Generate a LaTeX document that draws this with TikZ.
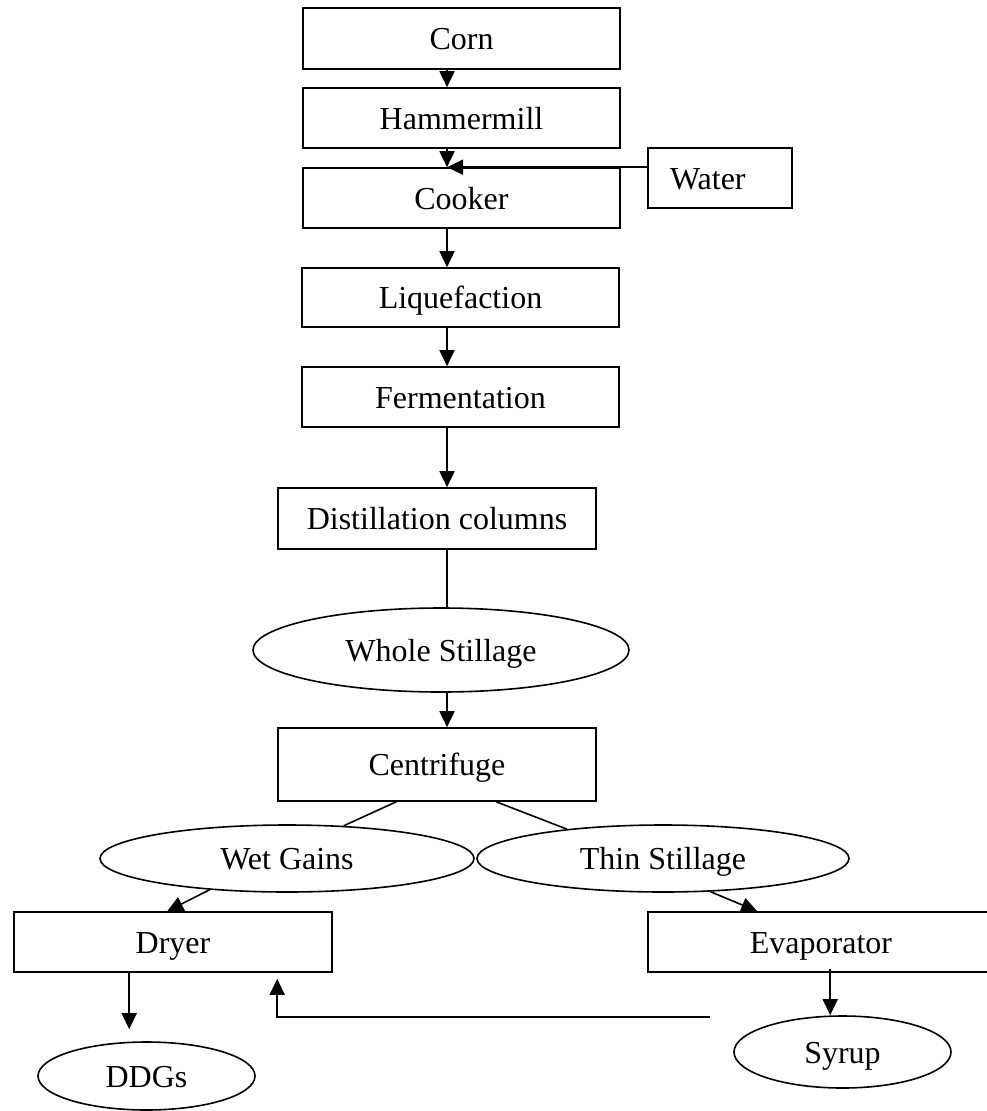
\documentclass[tikz,border=0pt]{standalone}
\usepackage{fontspec}
\setmainfont{Liberation Serif}
\usetikzlibrary{shapes.geometric,arrows.meta,calc}
\begin{document}
\begin{tikzpicture}[x=1pt,y=-1pt,
  every node/.style={font=\fontsize{32}{38}\selectfont, text height=22pt, text depth=0pt, inner sep=0pt},
  box/.style={draw, line width=1.6pt, rectangle, minimum width=317pt, minimum height=60pt},
  oval/.style={draw, line width=1.6pt, ellipse},
  conn/.style={line width=1.6pt},
  arr/.style={line width=1.6pt, -{Triangle[length=16pt,width=15pt]}}]
\useasboundingbox (0,0) rectangle (986,1111);
\coordinate (ax) at (447,0);
\node[box, minimum height=61pt] (corn) at (461.5,38.5) {Corn};
\node[box] (ham) at (461.5,118) {Hammermill};
\node[box] (cook) at (461.5,198) {Cooker};
\node[draw, line width=1.6pt, rectangle, minimum height=60pt, text width=100pt, inner xsep=22pt, align=left] (water) at (720,178) {Water};
\node[box, minimum height=59pt] (liq) at (460.5,297.5) {Liquefaction};
\node[box] (ferm) at (460.5,397) {Fermentation};
\node[box, minimum width=318pt, minimum height=61pt] (dist) at (437,518.5) {Distillation columns};
\node[oval, minimum width=376pt, minimum height=84pt] (whole) at (441,650) {Whole Stillage};
\node[box, minimum width=318pt, minimum height=73pt] (cent) at (437,764.5) {Centrifuge};
\node[oval, minimum width=374pt, minimum height=67pt] (wet) at (287,858.5) {Wet Gains};
\node[oval, minimum width=372pt, minimum height=67pt] (thin) at (663,858.5) {Thin Stillage};
\node[box, minimum width=318pt] (dryer) at (173,942) {Dryer};
\node[box, minimum width=346pt] (evap) at (821,942) {Evaporator};
\node[oval, minimum width=217pt, minimum height=68pt] (ddg) at (146.5,1076) {DDGs};
\node[oval, minimum width=217pt, minimum height=72pt] (syrup) at (842.5,1052) {Syrup};
% connectors
\draw[arr] (corn.south -| ax) -- (ham.north -| ax);
\draw[arr] (ham.south -| ax) -- (cook.north -| ax);
\draw[arr] (water.west |- cook.north) -- (cook.north -| ax);
\draw[arr] (cook.south -| ax) -- (liq.north -| ax);
\draw[arr] (liq.south -| ax) -- (ferm.north -| ax);
\draw[arr] (ferm.south -| ax) -- (dist.north -| ax);
\draw[conn] (dist.south -| ax) -- (whole.north -| ax);
\draw[arr] (whole.south -| ax) -- (cent.north -| ax);
\coordinate (cl) at ($(cent.south west)+(119,0)$);
\coordinate (cr) at ($(cent.south west)+(219,0)$);
\draw[conn] (cl) -- (wet.30);
\draw[conn] (cr) -- (thin.163);
\coordinate (drtip) at ($(dryer.north west)+(154,0)$);
\draw[arr] (wet.202) -- (drtip);
\coordinate (evtip) at ($(evap.north west)+(110,0)$);
\draw[arr] (thin.-35) -- (evtip);
\coordinate (ds) at ($(dryer.south west)+(116,0)$);
\coordinate (ddgtip) at ($(ddg.north)+(-16.5,-12)$);
\draw[arr] (ds) -- (ds |- ddgtip);
\coordinate (es) at ($(evap.south west)+(183,-4)$);
\draw[arr] (es) -- (es |- syrup.north);
\coordinate (fb) at ($(syrup.west)+(-23,-35)$);
\coordinate (fbtip) at ($(dryer.south west)+(264,6)$);
\draw[arr] (fb) -| (fbtip);
\end{tikzpicture}
\end{document}
